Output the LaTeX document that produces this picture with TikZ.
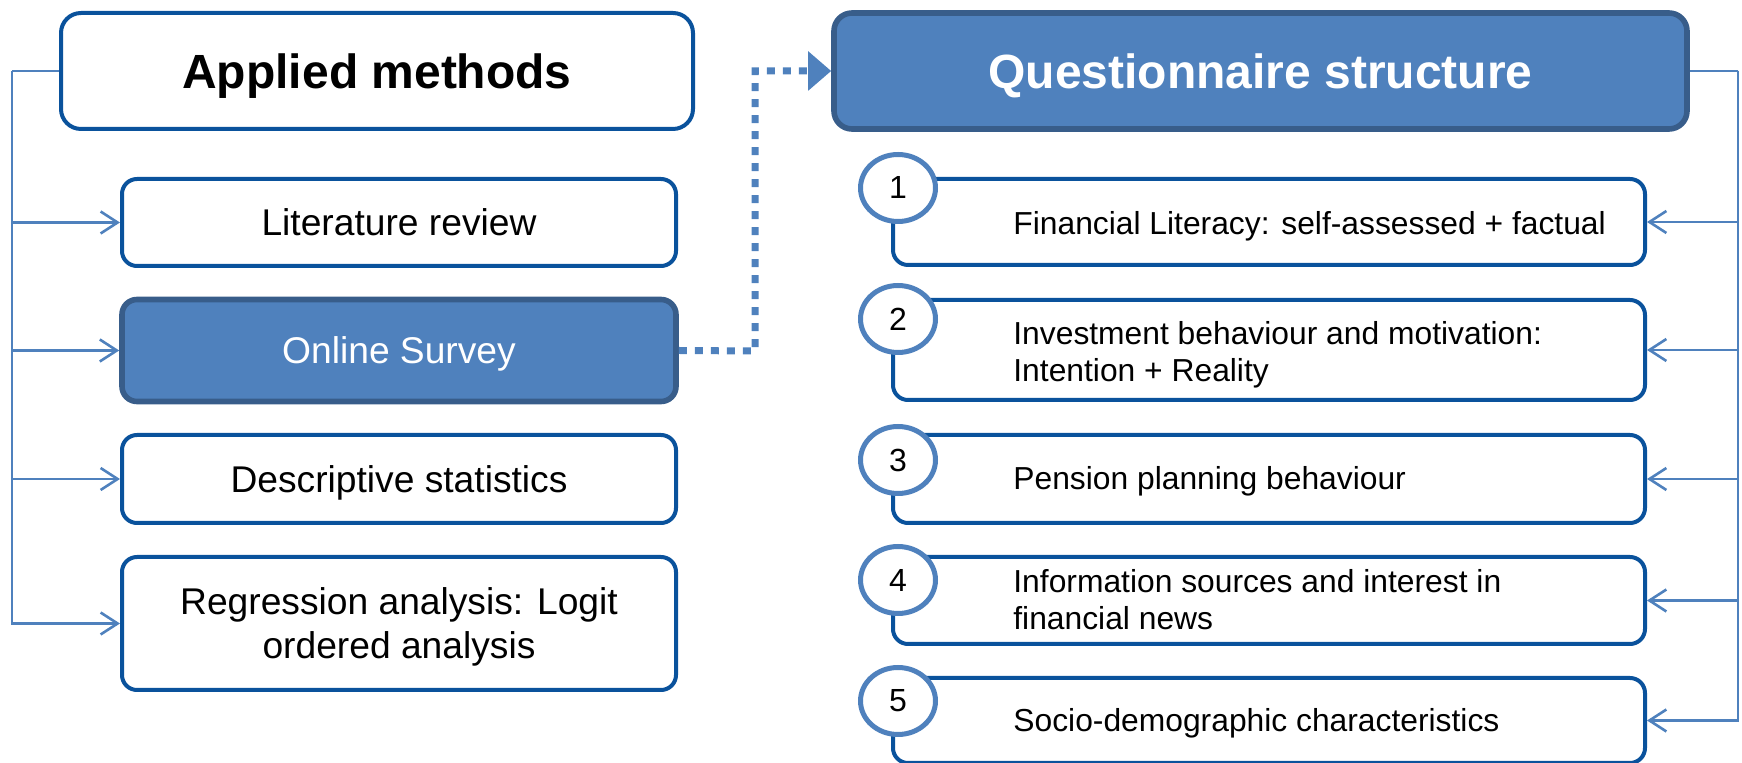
\documentclass[tikz,border=0pt]{standalone}
\usepackage{fontspec}
\setmainfont{Liberation Sans}
\usetikzlibrary{arrows.meta,shapes.geometric}
\definecolor{boxline}{RGB}{10,82,156}
\definecolor{darkline}{RGB}{56,93,138}
\definecolor{fillblue}{RGB}{79,129,189}
\begin{document}
\begin{tikzpicture}[x=0.5pt,y=-0.5pt,
  plainbox/.style={draw=boxline, line width=2pt, fill=white, rounded corners=7.5pt,
    inner sep=0pt, align=center, text depth=0pt},
  filledbox/.style={draw=darkline, line width=2.8pt, fill=fillblue, rounded corners=9pt,
    inner sep=0pt, align=center, text=white, text depth=0pt},
  titlefont/.style={font=\fontsize{24}{28}\selectfont\bfseries},
  leftfont/.style={font=\fontsize{18.6}{22}\selectfont},
  itemfont/.style={font=\fontsize{15.9}{18.5}\selectfont},
  leftbox/.style={minimum width=277pt},
  itembox/.style={plainbox, minimum width=376pt},
  itemtext/.style={itemfont, anchor=west, align=left, inner sep=0pt},
  itemline/.style={itemfont, anchor=base west, inner sep=0pt},
  numcircle/.style={ellipse, draw=fillblue, line width=2.5pt, fill=white,
    minimum width=37.5pt, minimum height=33.5pt, inner sep=0pt,
    font=\fontsize{16}{18}\selectfont},
  conn/.style={draw=fillblue, line width=1.3pt},
  arr/.style={conn, -{Straight Barb[length=8.5pt,width=11pt,line width=1.3pt]}},
  dotlink/.style={draw=fillblue, line width=3.5pt, dash pattern=on 4pt off 4pt,
    -{Triangle[length=11.5pt,width=19pt]}}
]
\useasboundingbox (0,0) rectangle (1742,763);

% ---- Left column: methods ----
\node[plainbox, rounded corners=10pt, minimum width=316pt, minimum height=58pt, titlefont]
  (applied) at (377,71) {Applied methods};
\node[plainbox, leftbox, minimum height=43.5pt, leftfont] (lit) at (399,222.5) {Literature review};
\node[filledbox, leftbox, minimum height=51pt, rounded corners=7.5pt, leftfont] (online) at (399,350.5) {Online Survey};
\node[plainbox, leftbox, minimum height=44pt, leftfont] (desc) at (399,479) {Descriptive statistics};
\node[plainbox, leftbox, minimum height=66.5pt, leftfont] (regr) at (399,623.5)
  {Regression analysis: Logit\\ordered analysis};

% left rail
\coordinate (lrail) at (12,71);
\draw[conn] (applied.west) -- (lrail);
\draw[arr] (lrail) |- (lit.west);
\draw[arr] (lrail) |- (online.west);
\draw[arr] (lrail) |- (desc.west);
\draw[arr] (lrail) |- (regr.west);

% ---- Right column: questionnaire ----
\node[filledbox, minimum width=426.5pt, minimum height=58pt, titlefont]
  (quest) at (1260.5,71) {Questionnaire structure};

\node[itembox, minimum height=43pt] (i1) at (1269,222) {};
\node[itembox, minimum height=50pt] (i2) at (1269,350) {};
\node[itembox, minimum height=44pt] (i3) at (1269,479) {};
\node[itembox, minimum height=43.5pt] (i4) at (1269,600.5) {};
\node[itembox, minimum height=42.5pt] (i5) at (1269,720.5) {};

\node[itemline] (t1) at (1013,235) {Financial Literacy: self-assessed + factual};
\node[itemtext] (t2) at (1013,355) {Investment behaviour and motivation:\\Intention + Reality};
\node[itemline] (t3) at (1013,490) {Pension planning behaviour};
\node[itemtext] (t4) at (1013,600) {Information sources and interest in\\financial news};
\node[itemline] (t5) at (1013,732) {Socio-demographic characteristics};

\node[numcircle] (n1) at (898,188) {1};
\node[numcircle] (n2) at (898,319) {2};
\node[numcircle] (n3) at (898,460) {3};
\node[numcircle] (n4) at (898,580) {4};
\node[numcircle] (n5) at (898,701) {5};

% right rail
\coordinate (rrail) at (1738,71);
\draw[conn] (quest.east) -- (rrail);
\draw[arr] (rrail) |- (i1.east);
\draw[arr] (rrail) |- (i2.east);
\draw[arr] (rrail) |- (i3.east);
\draw[arr] (rrail) |- (i4.east);
\draw[arr] (rrail) |- (i5.east);

% survey feeds the questionnaire
\coordinate (bend) at (755,351);
\draw[dotlink] (online.east) -- (bend) |- (quest.west);
\end{tikzpicture}
\end{document}
